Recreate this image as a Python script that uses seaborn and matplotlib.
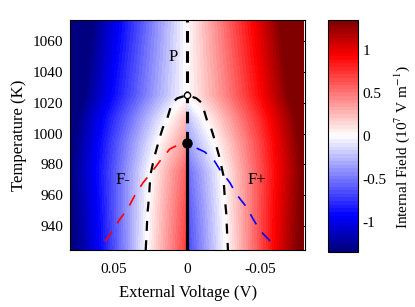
import numpy as np
import seaborn as sns
import matplotlib.pyplot as plt
from matplotlib.colors import LinearSegmentedColormap, Normalize
from matplotlib.cm import ScalarMappable

# Grid for the internal field map (voltage in V, temperature in K)
volt_left = [0.08, 0.07, 0.06, 0.05, 0.04, 0.03, 0.02, 0.01, 0.0]
volt_right = [0.0, -0.01, -0.02, -0.03, -0.04, -0.05, -0.06, -0.07, -0.08]
temp_rows = [924, 950, 975, 994, 1010, 1025, 1050, 1074]

# Internal field (10^7 V/m), left (V>0) and right (V<0) of 0 V
field_left = [
    [-1.40, -1.18, -0.94, -0.66, -0.38, -0.08, 0.20, 0.46, 0.72],
    [-1.38, -1.15, -0.91, -0.64, -0.37, -0.10, 0.17, 0.42, 0.66],
    [-1.36, -1.12, -0.88, -0.63, -0.38, -0.13, 0.12, 0.36, 0.58],
    [-1.40, -1.16, -0.92, -0.68, -0.45, -0.23, -0.01, 0.20, 0.40],
    [-1.45, -1.22, -0.99, -0.77, -0.56, -0.35, -0.15, 0.05, 0.25],
    [-1.55, -1.33, -1.11, -0.90, -0.70, -0.51, -0.33, -0.16, 0.00],
    [-1.62, -1.40, -1.18, -0.97, -0.76, -0.56, -0.37, -0.18, 0.00],
    [-1.68, -1.46, -1.24, -1.02, -0.81, -0.61, -0.40, -0.20, 0.00],
]
field_right = [
    [-0.70, -0.44, -0.18, 0.08, 0.36, 0.64, 0.92, 1.18, 1.40],
    [-0.64, -0.40, -0.15, 0.11, 0.37, 0.64, 0.91, 1.15, 1.38],
    [-0.56, -0.34, -0.11, 0.13, 0.38, 0.63, 0.88, 1.12, 1.36],
    [-0.38, -0.18, 0.02, 0.23, 0.45, 0.68, 0.92, 1.16, 1.40],
    [-0.24, -0.04, 0.15, 0.35, 0.56, 0.77, 0.99, 1.22, 1.45],
    [0.00, 0.16, 0.33, 0.51, 0.70, 0.90, 1.11, 1.33, 1.55],
    [0.00, 0.18, 0.37, 0.56, 0.76, 0.97, 1.18, 1.40, 1.62],
    [0.00, 0.20, 0.40, 0.61, 0.81, 1.02, 1.24, 1.46, 1.68],
]

# Zero-field boundary (black dashed dome), V>0 half, mirrored for V<0
wall_temp = [924, 933, 948, 958, 973, 985, 997, 1004, 1008, 1015, 1020, 1023, 1025]
wall_volt = [0.0282, 0.0277, 0.027, 0.026, 0.025, 0.0222, 0.0187, 0.0164, 0.014,
             0.0118, 0.0102, 0.0065, 0.0]

# F- (red) and F+ (blue) stability limits
fminus_temp = [929.8, 937.4, 944, 952, 960, 968, 975, 982, 990, 993, 994]
fminus_volt = [0.056, 0.0505, 0.046, 0.040, 0.0355, 0.030, 0.024, 0.0185, 0.0116, 0.005, 0.0]
fplus_temp = [930, 937, 945, 952, 958, 962, 968, 976.5, 982, 988, 991, 994]
fplus_volt = [-0.057, -0.050, -0.045, -0.041, -0.036, -0.033, -0.0295, -0.0226,
              -0.019, -0.0123, -0.0055, 0.0]

t_bottom, t_first_order, t_crit, t_top = 924, 994, 1025, 1074

sns.set_style("ticks")
plt.rcParams["font.family"] = ["Liberation Serif", "DejaVu Serif"]
plt.rcParams["mathtext.fontset"] = "stix"
for key in ["text.color", "axes.labelcolor", "xtick.color", "ytick.color",
            "axes.edgecolor"]:
    plt.rcParams[key] = "black"

cmap = LinearSegmentedColormap.from_list(
    "field",
    [(0.0, (0, 0, 0.5)), (0.15, (0, 0, 1)), (0.5, (1, 1, 1)),
     (0.85, (1, 0, 0)), (1.0, (0.5, 0, 0))],
    N=64,
)
norm = Normalize(-1.35, 1.35)
levels = np.linspace(-1.35, 1.35, 65)

fig = plt.figure(figsize=(4.15, 3.07), dpi=100)
ax = fig.add_axes([0.169, 0.185, 0.566, 0.75])

for volts, field in [(volt_left, field_left), (volt_right, field_right)]:
    vv, tt = np.meshgrid(volts, temp_rows)
    ax.contourf(vv, tt, np.array(field), levels=levels, cmap=cmap, norm=norm,
                extend="both", antialiased=False)

dome_x = wall_volt + [-v for v in reversed(wall_volt[:-1])]
dome_y = wall_temp + list(reversed(wall_temp[:-1]))
sns.lineplot(x=dome_x, y=dome_y, sort=False, estimator=None, ax=ax,
             color="black", lw=1.6, linestyle=(0, (4.5, 4.2)))
sns.lineplot(x=fminus_volt, y=fminus_temp, sort=False, estimator=None, ax=ax,
             color="red", lw=1.2, linestyle=(0, (7, 6)))
sns.lineplot(x=fplus_volt, y=fplus_temp, sort=False, estimator=None, ax=ax,
             color="blue", lw=1.2, linestyle=(0, (7, 6)))
sns.lineplot(x=[0, 0], y=[t_bottom, t_first_order], sort=False, estimator=None,
             ax=ax, color="black", lw=2.3)
sns.lineplot(x=[0, 0], y=[t_first_order, t_top], sort=False, estimator=None,
             ax=ax, color="black", lw=2.2, linestyle=(0, (3.8, 2.8)))
ax.plot([0], [t_first_order], "o", color="black", ms=6.5, zorder=5)
ax.plot([0], [t_crit], "o", mfc="white", mec="black", mew=1.0, ms=4.5, zorder=5)

ax.text(0.0096, 1050, "P", fontsize=12, ha="center", va="center")
ax.text(0.044, 970, "F-", fontsize=12, ha="center", va="center")
ax.text(-0.048, 970, "F+", fontsize=12, ha="center", va="center")

ax.set_xlim(0.08, -0.081)
ax.set_ylim(924, 1074)
ax.set_xticks([0.05, 0, -0.05])
ax.set_xticklabels(["0.05", "0", "-0.05"])
ax.set_yticks(range(940, 1061, 20))
ax.tick_params(direction="in", top=True, right=True, labelsize=11, length=3,
               width=0.8)
ax.tick_params(axis="x", pad=9)
ax.tick_params(axis="y", pad=5)
for s in ax.spines.values():
    s.set_linewidth(0.8)
    s.set_visible(True)
ax.set_xlabel("External Voltage (V)", fontsize=12, labelpad=7)
ax.set_ylabel("Temperature (K)", fontsize=12, labelpad=4)

cax = fig.add_axes([0.790, 0.18, 0.072, 0.755])
cbar = fig.colorbar(ScalarMappable(norm=norm, cmap=cmap), cax=cax)
cbar.set_ticks([-1, -0.5, 0, 0.5, 1])
cbar.set_ticklabels(["-1", "-0.5", "0", "0.5", "1"])
cbar.ax.tick_params(direction="in", left=True, right=True, labelsize=11,
                    length=2.5, width=0.8)
cbar.outline.set_linewidth(0.8)
cbar.set_label("Internal Field (10$^7$ V m$^{-1}$)", fontsize=11)
cbar.ax.yaxis.set_label_coords(2.15, 0.45)

fig.savefig("out.png", dpi=100)
plt.close(fig)
